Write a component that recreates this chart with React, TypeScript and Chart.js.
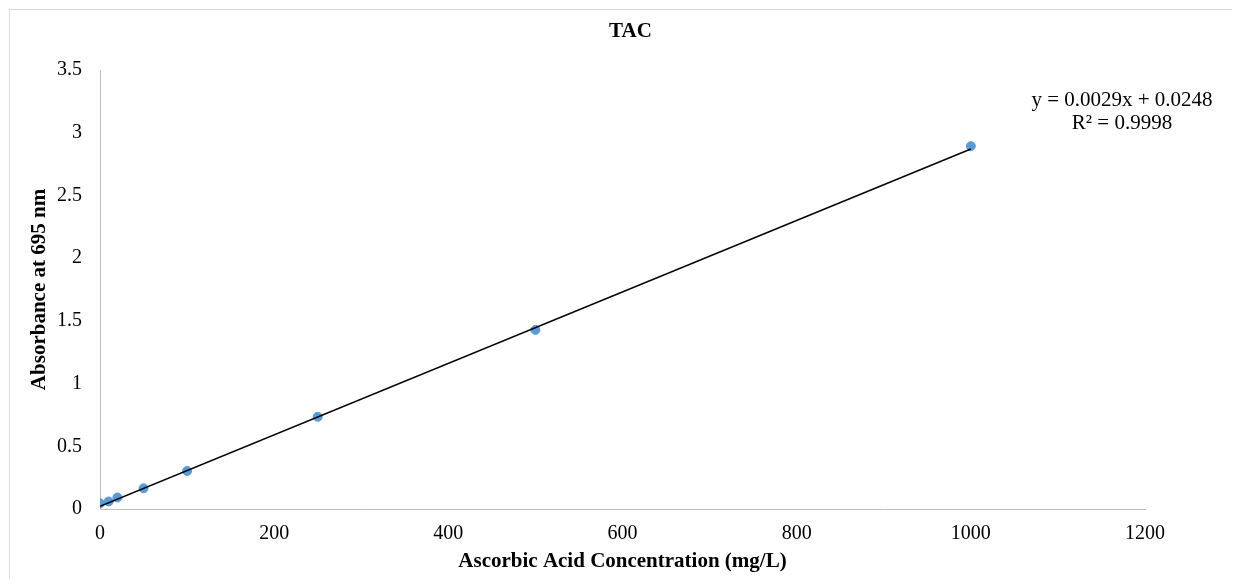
import React, { useEffect, useRef } from "react";
import { Chart, registerables } from "chart.js";

Chart.register(...registerables);

const concentrations = [0, 10, 20, 50, 100, 250, 500, 1000];
const absorbances = [0.045, 0.06, 0.092, 0.165, 0.303, 0.735, 1.428, 2.893];
const trendX = [0, 1000];
const trendY = [0.022, 2.87];
const chartTitle = "TAC";
const equationLines = ["y = 0.0029x + 0.0248", "R² = 0.9998"];
const xTitle = "Ascorbic Acid Concentration (mg/L)";
const yTitle = "Absorbance at 695 nm";
const xTicksMax = 1200;
const yTicksMax = 3.5;

const FONT = "'Liberation Serif', 'Times New Roman', serif";

const labelsPlugin = {
  id: "labelsPlugin",
  afterDraw(chart: any) {
    const { ctx, chartArea } = chart;
    ctx.save();
    ctx.fillStyle = "#000";
    ctx.textAlign = "center";
    ctx.textBaseline = "middle";
    ctx.font = `bold 21px ${FONT}`;
    ctx.fillText(chartTitle, (chartArea.left + chartArea.right) / 2 + 8, 22);
    ctx.font = `21px ${FONT}`;
    const cx = chartArea.right - 23;
    ctx.fillText(equationLines[0], cx, 90);
    ctx.fillText(equationLines[1], cx, 113);
    ctx.restore();
  },
};

export default function App() {
  const ref = useRef<HTMLCanvasElement | null>(null);
  useEffect(() => {
    if (!ref.current) return;
    const chart = new Chart(ref.current, {
      type: "scatter",
      data: {
        datasets: [
          {
            label: "Absorbance",
            data: concentrations.map((x, i) => ({ x, y: absorbances[i] })),
            backgroundColor: "#5b9bd5",
            borderColor: "#5b9bd5",
            pointRadius: 4.5,
            pointHoverRadius: 4.5,
            order: 2,
          },
          {
            type: "line",
            label: "Trend",
            data: trendX.map((x, i) => ({ x, y: trendY[i] })),
            borderColor: "#000",
            borderWidth: 1.5,
            pointRadius: 0,
            fill: false,
            order: 1,
          } as any,
        ],
      },
      options: {
        animation: false,
        responsive: false,
        layout: { padding: { left: 0, right: 87, top: 60, bottom: 0 } },
        plugins: {
          legend: { display: false },
          tooltip: { enabled: false },
          title: { display: false },
        },
        scales: {
          x: {
            type: "linear",
            min: 0,
            max: xTicksMax,
            ticks: {
              stepSize: 200,
              color: "#000",
              font: { family: FONT, size: 20 },
              padding: 13,
              maxRotation: 0,
              callback: (v: any) => String(v),
            },
            grid: { display: false, drawTicks: false },
            border: { display: true, color: "#bfbfbf", width: 1 },
            title: {
              display: true,
              text: xTitle,
              color: "#000",
              font: { family: FONT, size: 21, weight: "bold" },
              padding: { top: 0, bottom: 4 },
            },
            afterFit: (s: any) => {
              s.height = 69;
            },
          },
          y: {
            type: "linear",
            min: 0,
            max: yTicksMax,
            ticks: {
              stepSize: 0.5,
              color: "#000",
              font: { family: FONT, size: 20 },
              padding: 18,
              callback: (v: any) => String(v),
            },
            grid: { display: false, drawTicks: false },
            border: { display: true, color: "#bfbfbf", width: 1 },
            title: {
              display: true,
              text: yTitle,
              color: "#000",
              font: { family: FONT, size: 21, weight: "bold" },
              padding: { top: 17, bottom: 0 },
            },
            afterFit: (s: any) => {
              s.width = 90;
            },
          },
        },
      },
      plugins: [labelsPlugin],
    });
    return () => chart.destroy();
  }, []);
  return (
    <div
      style={{
        margin: "1px 0 0 1px",
        borderTop: "1px solid #d9d9d9",
        borderLeft: "1px solid #d9d9d9",
        width: 1222,
        height: 568,
        background: "#fff",
      }}
    >
      <canvas ref={ref} width={1222} height={568} style={{ display: "block" }} />
    </div>
  );
}
